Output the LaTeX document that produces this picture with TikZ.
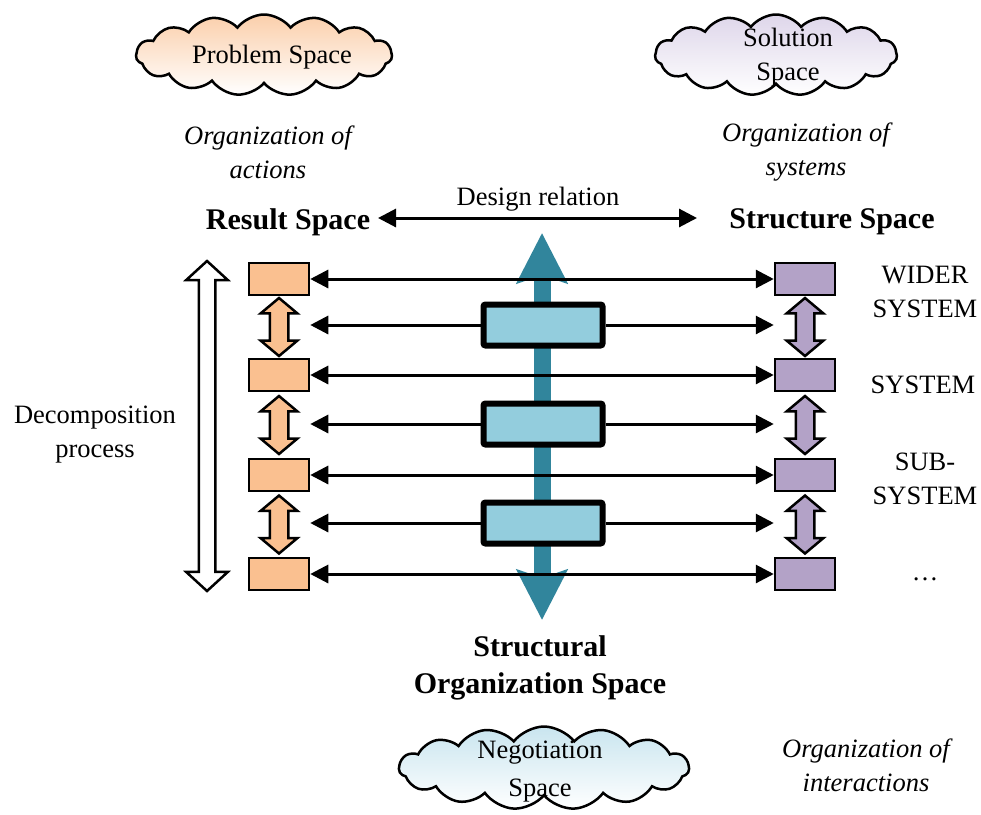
\documentclass[tikz,border=0pt]{standalone}
\usepackage{fontspec}
\setmainfont{Liberation Serif}
\usetikzlibrary{shapes.symbols,shapes.arrows,arrows.meta,calc}
\definecolor{resfill}{HTML}{FAC090}
\definecolor{strfill}{HTML}{B3A2C7}
\definecolor{orgfill}{HTML}{93CDDD}
\definecolor{orgarrow}{HTML}{31859C}
\definecolor{probtop}{HTML}{FBCFAB}
\definecolor{soltop}{HTML}{DED6EA}
\definecolor{negtop}{HTML}{C9E5EF}
\tikzset{
  txt/.style={font=\fontsize{26.5}{34}\selectfont,align=center,inner sep=0},
  head/.style={font=\bfseries\fontsize{30}{37}\selectfont,align=center,inner sep=0},
  note/.style={font=\itshape\fontsize{26.5}{34}\selectfont,align=center,inner sep=0},
  space/.style={cloud,cloud puffs=15,cloud puff arc=105,cloud ignores aspect,draw,line width=2.5pt,
    bottom color=white,inner sep=0},
  rbox/.style={draw,line width=2.5pt,fill=resfill,minimum width=60pt,minimum height=32pt,inner sep=0},
  sbox/.style={rbox,fill=strfill},
  obox/.style={draw,line width=6pt,fill=orgfill,rounded corners=2pt,minimum width=119pt,minimum height=41pt,inner sep=0},
  link/.style={line width=3pt},
  lift/.style={double arrow,draw,line width=2.5pt,rotate=90,inner sep=8pt,
    double arrow head extend=9pt,double arrow tip angle=100,minimum height=58pt},
  >={Triangle[length=18pt,width=18pt]}
}
\begin{document}
\begin{tikzpicture}[x=1pt,y=-1pt]
\useasboundingbox (0,0) rectangle (981,814);
% clouds
\node[space,top color=probtop,minimum width=256pt,minimum height=81pt] (prob) at (264,55) {};
\node[txt] (probtxt) at (272,57) {Problem Space};
\node[space,top color=soltop,minimum width=242pt,minimum height=81pt] (sol) at (776,55) {};
\node[txt] (soltxt) at (788,57) {Solution\\Space};
\node[space,top color=negtop,minimum width=290pt,minimum height=83pt] (neg) at (544,768) {};
\node[txt,font=\fontsize{26.5}{38}\selectfont] (negtxt) at (540,772) {Negotiation\\Space};
\node[note] (act) at (268,152) {Organization of\\actions};
\node[note] (sys) at (806,152) {Organization of\\systems};
\node[note] (inter) at (866,765) {Organization of\\interactions};
% headings
\node[head] (res) at (288,222) {Result Space};
\node[head] (str) at (832,222) {Structure Space};
\node[txt] (rel) at (538,199) {Design relation};
\coordinate (relL) at (378,218);
\coordinate (relR) at (697,218);
\draw[link,<->] (relL) -- (relR);
\node[head] (org) at (540,668) {Structural\\Organization Space};
\node[txt] (dec) at (95,435) {Decomposition\\process};
\node[lift,fill=white,minimum height=330pt,inner sep=7pt,double arrow head extend=12.5pt,double arrow tip angle=95] (dp) at (207,426) {};
% organization arrow
\coordinate (otop) at (542,233);
\coordinate (obot) at (542,620);
\draw[orgarrow,line width=17pt,{Stealth[length=50pt,width=50pt,inset=8pt]}-{Stealth[length=50pt,width=50pt,inset=8pt]}] (obot) -- (otop);
% levels
\foreach \i/\y in {1/279,2/375,3/475,4/574}{
  \node[rbox] (r\i) at (279,\y) {};
  \node[sbox] (s\i) at (805,\y) {};
  \draw[link,<->] (r\i) -- (s\i);
}
\foreach \i/\j in {1/2,2/3,3/4}{
  \node[lift,fill=resfill] (ra\i) at ($(r\i.south)!.5!(r\j.north)$) {};
  \node[lift,fill=strfill] (sa\i) at ($(s\i.south)!.5!(s\j.north)$) {};
}
\foreach \i/\y in {1/325,2/424,3/523}{
  \node[obox] (o\i) at (543,\y) {};
  \draw[link,->] (o\i.west) -- (o\i.west -| r1.east);
  \draw[link,->] (o\i.east) -- (o\i.east -| s1.west);
}
\node[txt] (wider) at (925,292) {WIDER\\SYSTEM};
\node[txt] (system) at (923,385) {SYSTEM};
\node[txt] (sub) at (925,479) {SUB-\\SYSTEM};
\node[txt] (more) at (925,579) {\dots};
\end{tikzpicture}
\end{document}
